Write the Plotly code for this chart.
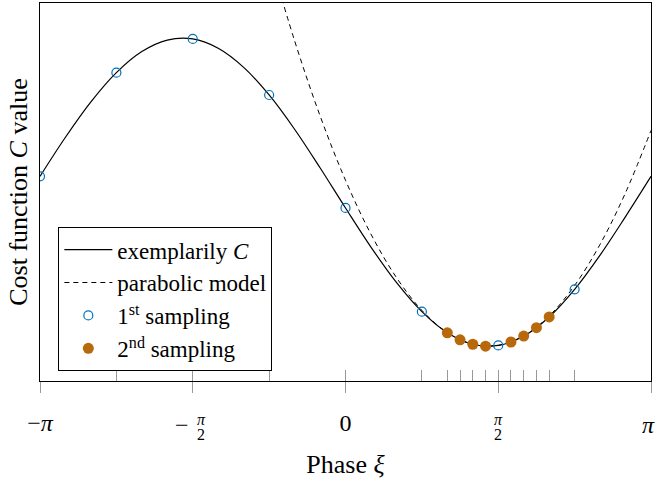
import numpy as np
import plotly.graph_objects as go

PI = np.pi

# ---- data (phase in multiples of pi/12 or pi/24, cost values) ----
curve_k12 = list(range(-12, 13))
curve_C = [1.3355, 1.5908, 1.8217, 2.0124, 2.1500, 2.2250, 2.2324, 2.1716, 2.0468,
           1.8666, 1.6431, 1.3916, 1.1293, 0.8740, 0.6431, 0.4524, 0.3148, 0.2398,
           0.2324, 0.2932, 0.4180, 0.5982, 0.8217, 1.0732, 1.3355]

parab_k12 = list(range(-3, 13))
parab_C = [2.7796, 2.2210, 1.7312, 1.3103, 0.9584, 0.6754, 0.4612, 0.3160, 0.2397,
           0.2323, 0.2938, 0.4242, 0.6236, 0.8918, 1.2290, 1.6350]

s1_k12 = [-12, -9, -6, -3, 0, 3, 6, 9]
s1_C = [1.3355, 2.0124, 2.2324, 1.8666, 1.1293, 0.4524, 0.2324, 0.5982]

s2_k24 = [8, 9, 10, 11, 13, 14, 15, 16]
s2_C = [0.3148, 0.2690, 0.2398, 0.2276, 0.2545, 0.2932, 0.3480, 0.4180]

label_k2 = [-2, 0]          # plain tick labels (multiples of pi/2)
label_text = ["\u2212<i>\u03c0</i>", "0"]
frac_k2 = [-1, 1]           # stacked-fraction tick positions
major_k2 = [-2, -1, 0, 1, 2]

curve_x = [k * PI / 12 for k in curve_k12]
parab_x = [k * PI / 12 for k in parab_k12]
s1_x = [k * PI / 12 for k in s1_k12]
s2_x = [k * PI / 24 for k in s2_k24]
label_x = [k * PI / 2 for k in label_k2]
frac_x = [k * PI / 2 for k in frac_k2]
major_x = [k * PI / 2 for k in major_k2]

FONT = "Liberation Serif"
BLUE = "#0072BD"
ORANGE = "#B8690C"
TICKC = "#999999"

fig = go.Figure()
fig.add_trace(go.Scatter(x=curve_x, y=curve_C, mode="lines", name="exemplarily <i>C</i>",
                         line=dict(color="black", width=1.2, shape="spline", smoothing=1.0)))
fig.add_trace(go.Scatter(x=parab_x, y=parab_C, mode="lines", name="parabolic model",
                         line=dict(color="black", width=1, dash="5px,4px", shape="spline", smoothing=1.0)))
fig.add_trace(go.Scatter(x=s1_x, y=s1_C, mode="markers", name="1<sup>st</sup> sampling",
                         marker=dict(symbol="circle-open", size=9, color=BLUE, line=dict(width=1.2, color=BLUE))))
fig.add_trace(go.Scatter(x=s2_x, y=s2_C, mode="markers", name="2<sup>nd</sup> sampling",
                         marker=dict(symbol="circle", size=11, color=ORANGE)))
# invisible traces carrying the overlay axes (inside sample ticks, outside major ticks)
fig.add_trace(go.Scatter(x=s1_x + s2_x, y=s1_C + s2_C, mode="markers", xaxis="x2",
                         marker=dict(opacity=0), showlegend=False, hoverinfo="skip"))
fig.add_trace(go.Scatter(x=s1_x, y=s1_C, mode="markers", xaxis="x3",
                         marker=dict(opacity=0), showlegend=False, hoverinfo="skip"))

fig.update_layout(
    width=658, height=479,
    margin=dict(l=40, r=7, t=3, b=98, autoexpand=False),
    paper_bgcolor="white", plot_bgcolor="white",
    font=dict(family=FONT, size=24, color="black"),
    showlegend=True,
    legend=dict(x=0.03, y=0.407, xanchor="left", yanchor="top",
                bordercolor="black", borderwidth=1, bgcolor="white",
                itemwidth=48, font=dict(family=FONT, size=23)),
    xaxis=dict(range=[-PI, PI], showgrid=False, zeroline=False, automargin=False,
               showline=True, linecolor="black", linewidth=1, mirror=True,
               ticks="", tickvals=label_x, ticktext=label_text, ticklabelstandoff=20,
               tickfont=dict(family=FONT, size=24),
               title=dict(text="Phase <i>\u03be</i>", standoff=20,
                          font=dict(family=FONT, size=26))),
    xaxis2=dict(overlaying="x", matches="x", anchor="y", side="bottom", automargin=False,
                showgrid=False, zeroline=False, showline=False,
                ticks="inside", ticklen=11, tickcolor=TICKC, tickwidth=1,
                tickvals=s1_x + s2_x, showticklabels=False),
    xaxis3=dict(overlaying="x", matches="x", anchor="y", side="bottom", automargin=False,
                showgrid=False, zeroline=False, showline=False,
                ticks="outside", ticklen=11, tickcolor=TICKC, tickwidth=1,
                tickvals=major_x, showticklabels=False),
    yaxis=dict(range=[0, 2.467], showgrid=False, zeroline=False, automargin=False,
               showline=True, linecolor="black", linewidth=1, mirror=True,
               ticks="", showticklabels=False,
               title=dict(text="Cost function <i>C</i> value", standoff=3,
                          font=dict(family=FONT, size=26))),
)

# right-edge pi label and stacked-fraction tick labels for -pi/2 and pi/2
fig.add_annotation(x=PI, y=-0.116, xref="x", yref="paper", text="<i>\u03c0</i>",
                   showarrow=False, xanchor="right", yanchor="middle", xshift=6,
                   font=dict(family=FONT, size=24))
for xv in frac_x:
    minus = xv < 0
    shift = 8.5 if minus else 0
    fig.add_annotation(x=xv, y=-0.101, xref="x", yref="paper", text="<i>\u03c0</i>",
                       showarrow=False, xanchor="center", yanchor="middle", xshift=shift,
                       borderpad=0, font=dict(family=FONT, size=16))
    fig.add_annotation(x=xv, y=-0.141, xref="x", yref="paper", text="2",
                       showarrow=False, xanchor="center", yanchor="middle", xshift=shift,
                       borderpad=0, font=dict(family=FONT, size=16))
    if minus:
        fig.add_annotation(x=xv, y=-0.116, xref="x", yref="paper", text="\u2212",
                           showarrow=False, xanchor="center", yanchor="middle", xshift=-10.5,
                           font=dict(family=FONT, size=24))

fig.write_html("out.html", config={"displayModeBar": False},
               post_script="document.body.style.margin='0';")
